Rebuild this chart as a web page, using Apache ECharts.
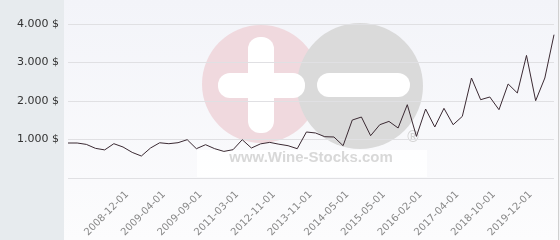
<!DOCTYPE html>
<html><head><meta charset="utf-8">
<script src="https://cdn.jsdelivr.net/npm/echarts@6/dist/echarts.min.js"></script>
<style>html,body{margin:0;padding:0;background:#fff}#c{width:560px;height:240px}</style>
</head><body><div id="c"></div>
<script>
// Price series (one value per auction date)
const values = [909, 909, 873, 770, 730, 891, 805, 665, 571, 779,
  915, 891, 917, 995, 761, 865, 761, 691, 735, 995,
  779, 887, 925, 878, 839, 761, 1195, 1169, 1073, 1065,
  839, 1505, 1584, 1099, 1384, 1470, 1299, 1904, 1081, 1792,
  1325, 1810, 1384, 1600, 2597, 2034, 2104, 1774, 2442, 2208,
  3184, 2008, 2597, 3722];
// Visible date labels on the x axis (every 4th point)
const tickLabels = ['2008-12-01', '2009-04-01', '2009-09-01', '2011-03-01', '2012-11-01',
  '2013-11-01', '2014-05-01', '2015-05-01', '2016-02-01', '2017-04-01', '2018-10-01', '2019-12-01'];
const yTicks = [0, 1000, 2000, 3000, 4000];

const firstLabel = 7, labelStep = 4;
const categories = values.map((_, i) => {
  const k = (i - firstLabel) / labelStep;
  return (Number.isInteger(k) && k >= 0 && k < tickLabels.length) ? tickLabels[k] : '';
});

function fmt(v) {
  if (v === 0) return '';
  return String(v).replace(/\B(?=(\d{3})+(?!\d))/g, '.') + ' $';
}

const chart = echarts.init(document.getElementById('c'), null, {renderer: 'canvas'});
chart.setOption({
  animation: false,
  graphic: [
    {type: 'rect', z: -20, shape: {x: 0, y: 0, width: 64, height: 240}, style: {fill: '#e7ebee'}},
    {type: 'rect', z: -20, shape: {x: 64, y: 0, width: 494, height: 240},
      style: {fill: {type: 'linear', x: 0, y: 0, x2: 0, y2: 1,
        colorStops: [{offset: 0, color: '#f3f4f9'}, {offset: 1, color: '#fcfcfd'}]}}},
    {type: 'rect', z: -20, shape: {x: 558, y: 0, width: 1, height: 240}, style: {fill: '#d0d0d0'}},
    {type: 'rect', z: -20, shape: {x: 559, y: 0, width: 1, height: 240}, style: {fill: '#f4f4f6'}},
    // watermark logo
    {type: 'circle', z: -10, shape: {cx: 261, cy: 84, r: 59}, style: {fill: '#f0d9de'}},
    {type: 'circle', z: -10, shape: {cx: 360, cy: 86, r: 63}, style: {fill: '#dadada'}},
    {type: 'rect', z: -9, shape: {x: 218, y: 73, width: 87, height: 25, r: 12}, style: {fill: '#ffffff'}},
    {type: 'rect', z: -9, shape: {x: 248, y: 37, width: 26, height: 96, r: 12}, style: {fill: '#ffffff'}},
    {type: 'rect', z: -9, shape: {x: 317, y: 73, width: 93, height: 24, r: 12}, style: {fill: '#ffffff'}},
    {type: 'rect', z: -9, shape: {x: 197, y: 150, width: 230, height: 27}, style: {fill: 'rgba(255,255,255,0.85)'}},
    {type: 'text', z: -8, x: 311, y: 165, style: {text: 'www.Wine-Stocks.com', fill: '#d8d8d8',
      font: 'bold 15px "Liberation Sans", Arial, sans-serif', textAlign: 'center', textVerticalAlign: 'bottom'}},
    {type: 'text', z: -8, x: 413, y: 138, style: {text: '®', fill: '#d2d2d2',
      font: '15px "DejaVu Sans", sans-serif', textAlign: 'center', textVerticalAlign: 'middle'}}
  ],
  grid: {left: 68, right: 6, top: 24, bottom: 62, containLabel: false},
  xAxis: {
    type: 'category', data: categories, boundaryGap: false,
    axisLine: {show: false}, axisTick: {show: false}, splitLine: {show: false},
    axisLabel: {interval: 0, rotate: 45, fontSize: 10, color: '#888', margin: 10,
      padding: [0, 7, 0, 0],
      fontFamily: '"DejaVu Sans", sans-serif'}
  },
  yAxis: {
    type: 'value', min: yTicks[0], max: yTicks[yTicks.length - 1], interval: 1000,
    axisLine: {show: false}, axisTick: {show: false},
    splitLine: {lineStyle: {color: '#e0e0e3', width: 1}},
    axisLabel: {formatter: fmt, fontSize: 11, color: '#333', margin: 9,
      fontFamily: '"DejaVu Sans", sans-serif'}
  },
  series: [{
    type: 'line', data: values, symbol: 'none', smooth: false,
    lineStyle: {color: '#3b2a33', width: 1}, itemStyle: {color: '#3b2a33'}
  }]
});
</script></body></html>
